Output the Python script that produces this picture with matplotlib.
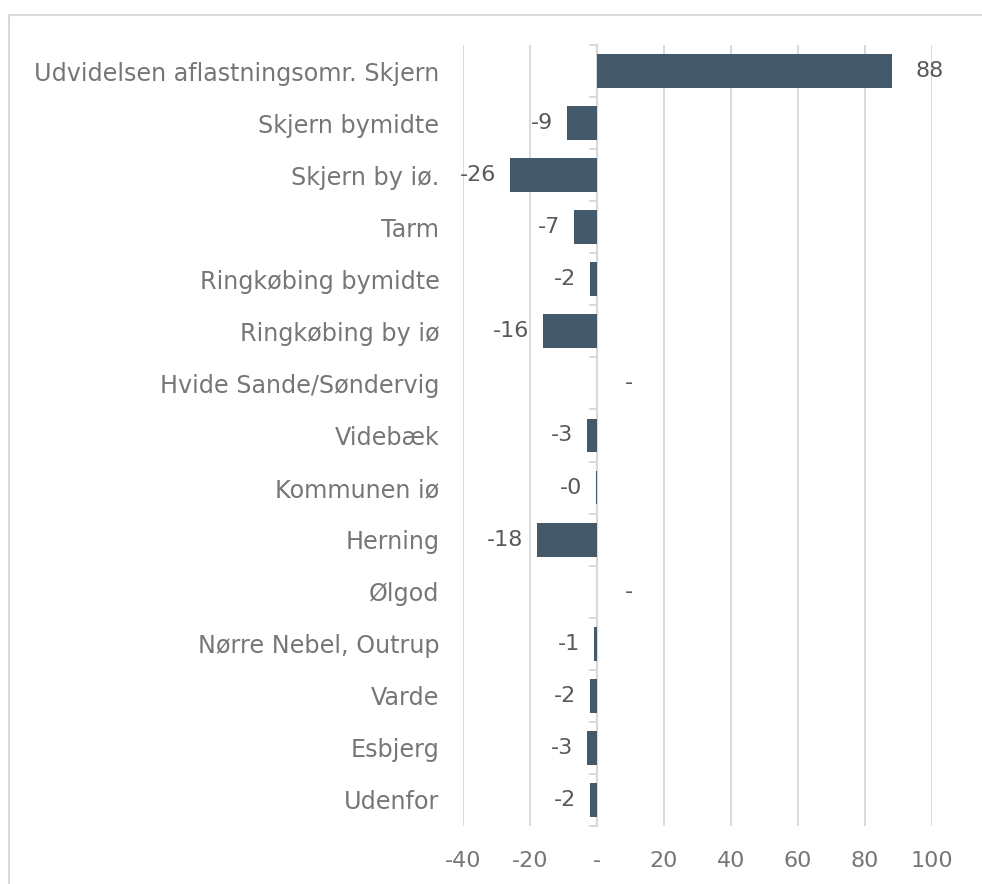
import matplotlib
matplotlib.use("Agg")
import matplotlib.pyplot as plt
from matplotlib.patches import Rectangle
import numpy as np

categories = [
    "Udvidelsen aflastningsomr. Skjern",
    "Skjern bymidte",
    "Skjern by iø.",
    "Tarm",
    "Ringkøbing bymidte",
    "Ringkøbing by iø",
    "Hvide Sande/Søndervig",
    "Videbæk",
    "Kommunen iø",
    "Herning",
    "Ølgod",
    "Nørre Nebel, Outrup",
    "Varde",
    "Esbjerg",
    "Udenfor",
]
values = [88, -9, -26, -7, -2, -16, 0, -3, -0.3, -18, 0, -1, -2, -3, -2]
xticks = [-40, -20, 0, 20, 40, 60, 80, 100]
xticklabels = ["-40", "-20", "-", "20", "40", "60", "80", "100"]

BAR = "#44596A"
GRID = "#D9D9D9"
LABEL = "#767676"
VAL = "#595959"
FS = 16.0
FS_CAT = 17.2

fig = plt.figure(figsize=(9.82, 8.84), dpi=100)
fig.patch.set_facecolor("white")
ax = fig.add_axes([463/982, 1-826/884, (932-463)/982, (826-45)/884])

n = len(categories)
y = np.arange(n)
ax.barh(y, values, height=0.65, color=BAR, zorder=3)
ax.set_ylim(n-0.5, -0.5)
ax.set_xlim(-40, 100)

ax.set_xticks(xticks)
ax.set_xticklabels(xticklabels)
ax.set_yticks(y)
ax.set_yticklabels(categories)
ax.tick_params(axis="x", length=0, pad=18, labelsize=FS, labelcolor=LABEL)
ax.tick_params(axis="y", length=0, pad=17, labelsize=FS_CAT, labelcolor=LABEL)
for s in ax.spines.values():
    s.set_visible(False)
ax.grid(axis="x", color=GRID, lw=1.4, zorder=0)
ax.set_axisbelow(True)

# zero axis line with category separator ticks
zero_pos = (0 - (-40)) / (100 - (-40))
sec = ax.secondary_yaxis(zero_pos)
sec.set_yticks(np.arange(n+1) - 0.5)
sec.tick_params(axis="y", direction="out", length=6, width=1.4, color=GRID, labelleft=False, labelright=False)
sec.spines["left"].set_color(GRID)
sec.spines["left"].set_linewidth(1.6)
for k in ["right", "top", "bottom"]:
    sec.spines[k].set_visible(False)

for yi, v in zip(y, values):
    if v == 0:
        ax.annotate("-", (0, yi), xytext=(20, 0), textcoords="offset points",
                    ha="left", va="center", fontsize=FS, color=VAL)
    elif v > 0:
        ax.annotate(f"{v:.0f}", (v, yi), xytext=(17, 0), textcoords="offset points",
                    ha="left", va="center", fontsize=FS, color=VAL, annotation_clip=False)
    else:
        ax.annotate(f"{v:.0f}", (v, yi), xytext=(-10, 0), textcoords="offset points",
                    ha="right", va="center", fontsize=FS, color=VAL)

fig.patches.append(Rectangle((9/982, -0.1), 1.2, 1-15/884+0.1, transform=fig.transFigure,
                             fill=False, edgecolor=GRID, lw=1.5))

fig.savefig("out.png", dpi=100)
